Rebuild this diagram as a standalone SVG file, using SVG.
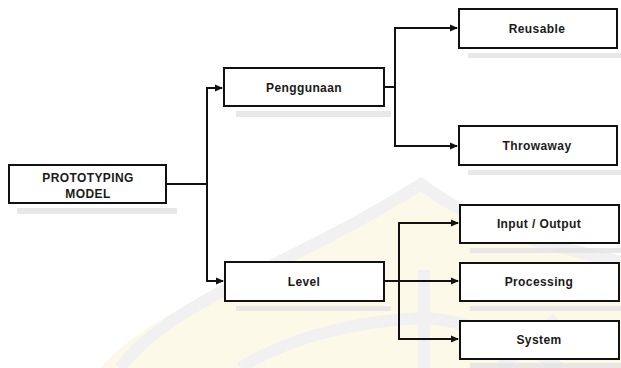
<svg xmlns="http://www.w3.org/2000/svg" width="621" height="368" viewBox="0 0 621 368">
<style>
.box{fill:#fff;stroke:#111;stroke-width:2}
.sh{fill:#e2e2e2;opacity:0.8}
.lbl{font-family:"Liberation Sans",Arial,sans-serif;font-weight:bold;font-size:12px;letter-spacing:0.4px;fill:#1a1a1a;text-anchor:middle}
.ln{fill:none;stroke:#111;stroke-width:2}
.wm{fill:none;stroke:#f1f1f1;stroke-width:12}
</style>
<defs>
<marker id="ah" markerWidth="8" markerHeight="8" refX="7" refY="4" orient="auto" markerUnits="userSpaceOnUse">
<path d="M0,0.5 L8,4 L0,7.5 Z" fill="#111"/>
</marker>
</defs>
<rect width="621" height="368" fill="#fff"/>
<g id="watermark">
<path d="M100,368 C160,300 300,260 421,178 C500,240 600,250 621,262 L621,368 Z" fill="#fdf9e8"/>
<path class="wm" d="M120,368 C170,300 300,262 421,184 C500,244 590,252 621,262"/>
<path class="wm" d="M240,368 C300,330 380,320 421,318 C470,320 520,340 560,368" stroke="#f8f2d4"/>
<path class="wm" d="M424,270 L424,368"/>
<path class="wm" d="M557,318 L500,368"/>
</g>
<g id="connectors">
<path class="ln" d="M166,184 H207"/>
<path class="ln" d="M207,184 V88 H222" marker-end="url(#ah)"/>
<path class="ln" d="M207,184 V281 H223" marker-end="url(#ah)"/>
<path class="ln" d="M384,87 H395"/>
<path class="ln" d="M395,87 V28 H457" marker-end="url(#ah)"/>
<path class="ln" d="M395,87 V146 H457" marker-end="url(#ah)"/>
<path class="ln" d="M384,281 H458" marker-end="url(#ah)"/>
<path class="ln" d="M399,281 V223 H458" marker-end="url(#ah)"/>
<path class="ln" d="M399,281 V339 H458" marker-end="url(#ah)"/>
</g>
<g id="prototyping">
<rect class="sh" x="17" y="208" width="160" height="6"/>
<rect class="box" x="9" y="165" width="157" height="38"/>
<text class="lbl" x="88" y="182" font-size="13" letter-spacing="0.5">PROTOTYPING</text>
<text class="lbl" x="88" y="198" font-size="13" letter-spacing="0.5">MODEL</text>
</g>
<g id="penggunaan">
<rect class="sh" x="236" y="111" width="155" height="6"/>
<rect class="box" x="224" y="68" width="160" height="38"/>
<text class="lbl" x="304" y="92" letter-spacing="0.8">Penggunaan</text>
</g>
<g id="level">
<rect class="sh" x="236" y="306" width="155" height="5"/>
<rect class="box" x="225" y="262" width="159" height="39"/>
<text class="lbl" x="304" y="286" letter-spacing="1.2">Level</text>
</g>
<g id="reusable">
<rect class="sh" x="468" y="53" width="153" height="5"/>
<rect class="box" x="459" y="9" width="158" height="39"/>
<text class="lbl" x="537" y="33">Reusable</text>
</g>
<g id="throwaway">
<rect class="sh" x="468" y="170" width="153" height="5"/>
<rect class="box" x="459" y="126" width="158" height="39"/>
<text class="lbl" x="537" y="150">Throwaway</text>
</g>
<g id="inputoutput">
<rect class="sh" x="470" y="248" width="151" height="5"/>
<rect class="box" x="460" y="205" width="159" height="38"/>
<text class="lbl" x="539" y="228">Input / Output</text>
</g>
<g id="processing">
<rect class="sh" x="470" y="306" width="151" height="5"/>
<rect class="box" x="460" y="263" width="159" height="38"/>
<text class="lbl" x="539" y="286">Processing</text>
</g>
<g id="system">
<rect class="sh" x="470" y="363" width="151" height="5"/>
<rect class="box" x="460" y="321" width="159" height="38"/>
<text class="lbl" x="539" y="344">System</text>
</g>
</svg>
